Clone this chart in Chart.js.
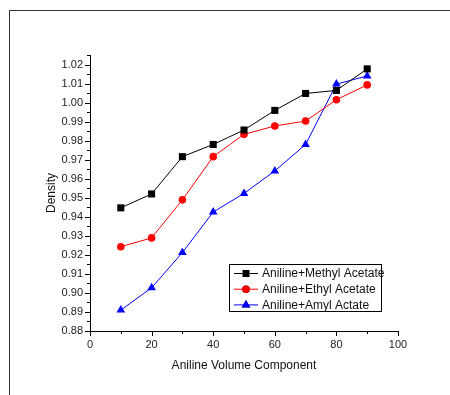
<!DOCTYPE html>
<html>
<head>
<meta charset="utf-8">
<script src="https://cdn.jsdelivr.net/npm/chart.js@4.4.1/dist/chart.umd.min.js"></script>
<style>
  html, body { margin: 0; padding: 0; background: #fff; }
  #wrap { position: relative; width: 450px; height: 395px; }
  #frame { position: absolute; left: 9px; top: 10px; right: 0; bottom: 0;
           border-left: 1px solid #333; border-top: 1px solid #333; }
  canvas { position: absolute; left: 0; top: 0; }
</style>
</head>
<body>
<div id="wrap">
  <div id="frame"></div>
  <canvas id="chart" width="450" height="395"></canvas>
</div>
<script>
// Density vs aniline volume component, three binary mixtures

var xValues = [10, 20, 30, 40, 50, 60, 70, 80, 90];

var methylAcetate = [0.9447, 0.9520, 0.9716, 0.9780, 0.9856, 0.9959, 1.0048, 1.0064, 1.0177];
var ethylAcetate  = [0.9243, 0.9289, 0.9489, 0.9716, 0.9833, 0.9877, 0.9903, 1.0015, 1.0093];
var amylActate    = [0.8910, 0.9027, 0.9212, 0.9425, 0.9523, 0.9641, 0.9780, 1.0097, 1.0140];

var seriesNames = ['Aniline+Methyl Acetate', 'Aniline+Ethyl Acetate', 'Aniline+Amyl Actate'];
var seriesColors = ['#000000', '#ff0000', '#0000ff'];
var seriesMarkers = ['rect', 'circle', 'triangle'];
var markerSizes = [5, 3.8, 5];

var FONT = "'Liberation Sans', Arial, sans-serif";

function toPoints(ys) {
  return xValues.map(function(x, i) { return { x: x, y: ys[i] }; });
}

var allSeries = [methylAcetate, ethylAcetate, amylActate];
var datasets = allSeries.map(function(ys, i) {
  return {
    label: seriesNames[i],
    data: toPoints(ys),
    borderColor: seriesColors[i],
    backgroundColor: seriesColors[i],
    borderWidth: 1,
    pointStyle: seriesMarkers[i],
    pointRadius: markerSizes[i],
    pointBorderWidth: 0,
    tension: 0
  };
});

// outward tick marks, long for labelled ticks, short for the in-between ones
var tickMarks = {
  id: 'tickMarks',
  afterDraw: function(chart) {
    var ctx = chart.ctx;
    ctx.save();
    ctx.strokeStyle = '#000';
    ctx.lineWidth = 1;
    var xs = chart.scales.x, ys = chart.scales.y;
    xs.ticks.forEach(function(t, i) {
      var px = Math.round(xs.getPixelForTick(i)) + 0.5;
      var major = Math.round(t.value) % 20 === 0;
      ctx.beginPath();
      ctx.moveTo(px, xs.top);
      ctx.lineTo(px, xs.top + (major ? 5 : 3));
      ctx.stroke();
    });
    ys.ticks.forEach(function(t, i) {
      var py = Math.round(ys.getPixelForTick(i)) + 0.5;
      var major = Math.abs(Math.round(t.value * 100) - t.value * 100) < 1e-6;
      ctx.beginPath();
      ctx.moveTo(ys.right, py);
      ctx.lineTo(ys.right - (major ? 5 : 3), py);
      ctx.stroke();
    });
    ctx.restore();
  }
};

// boxed legend inside the plot, lower right
var boxLegend = {
  id: 'boxLegend',
  afterDraw: function(chart) {
    var ctx = chart.ctx;
    var bx = 229.5, by = 264.5, bw = 152, bh = 47;
    ctx.save();
    ctx.fillStyle = '#fff';
    ctx.fillRect(bx, by, bw, bh);
    ctx.strokeStyle = '#000';
    ctx.lineWidth = 1;
    ctx.strokeRect(bx, by, bw, bh);
    ctx.font = '12px ' + FONT;
    ctx.textBaseline = 'middle';
    chart.data.datasets.forEach(function(ds, i) {
      var y = 273.5 + i * 15.7;
      ctx.strokeStyle = ds.borderColor;
      ctx.beginPath();
      ctx.moveTo(234, y);
      ctx.lineTo(258, y);
      ctx.stroke();
      Chart.helpers.drawPoint(ctx, { pointStyle: ds.pointStyle, radius: ds.pointRadius, borderWidth: 0 }, 246, y);
      ctx.fillStyle = ds.backgroundColor;
      ctx.fill();
      ctx.fillStyle = '#111';
      ctx.fillText(ds.label, 262, y + 0.5);
    });
    ctx.restore();
  }
};

new Chart(document.getElementById('chart'), {
  type: 'line',
  data: { datasets: datasets },
  options: {
    responsive: false,
    animation: false,
    layout: { padding: { top: 55, right: 52, left: 44, bottom: 22 } },
    plugins: { legend: { display: false }, tooltip: { enabled: false } },
    scales: {
      x: {
        type: 'linear',
        min: 0,
        max: 100,
        afterFit: function(s) { s.height = 42; },
        grid: { display: false, drawTicks: false },
        border: { display: true, color: '#000', width: 1 },
        ticks: {
          stepSize: 10,
          padding: 7,
          color: '#222',
          font: { family: FONT, size: 11 },
          maxRotation: 0,
          autoSkip: false,
          callback: function(v) { return v % 20 === 0 ? v : ''; }
        },
        title: {
          display: true,
          text: 'Aniline Volume Component',
          color: '#111',
          font: { family: FONT, size: 12 },
          padding: { top: 0, bottom: 0 }
        }
      },
      y: {
        type: 'linear',
        min: 0.88,
        max: 1.025,
        afterFit: function(s) { s.width = 46; },
        grid: { display: false, drawTicks: false },
        border: { display: true, color: '#000', width: 1 },
        afterBuildTicks: function(s) {
          var t = [];
          for (var k = 0; k <= 29; k++) t.push({ value: 0.88 + k * 0.005 });
          s.ticks = t;
        },
        ticks: {
          padding: 7,
          color: '#222',
          font: { family: FONT, size: 11 },
          autoSkip: false,
          callback: function(v) {
            var h = Math.round(v * 1000);
            return h % 10 === 0 ? (h / 1000).toFixed(2) : '';
          }
        },
        title: {
          display: true,
          text: 'Density',
          color: '#111',
          font: { family: FONT, size: 12 },
          padding: { top: 0, bottom: 0 }
        }
      }
    }
  },
  plugins: [tickMarks, boxLegend]
});
</script>
</body>
</html>
